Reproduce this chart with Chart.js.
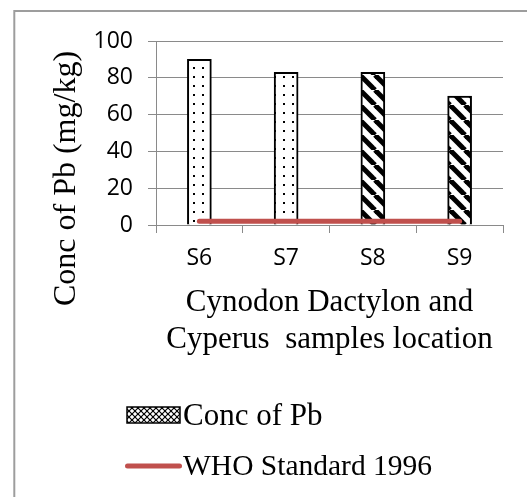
<!DOCTYPE html>
<html>
<head>
<meta charset="utf-8">
<script src="https://cdn.jsdelivr.net/npm/chart.js@4.4.1/dist/chart.umd.min.js"></script>
<style>
  html, body { margin: 0; padding: 0; background: #fff; }
  #wrap { width: 527px; height: 497px; position: relative; }
</style>
</head>
<body>
<div id="wrap"><canvas id="c" width="527" height="497"></canvas></div>
<script>
// ---- data ----
const categories = ['S6', 'S7', 'S8', 'S9'];
const pbValues = [90, 83, 83, 70];
const whoValues = [2, 2, 2, 2];
const seriesNames = ['Conc of Pb', 'WHO Standard 1996'];
const yAxisTitle = 'Conc of Pb (mg/kg)';
const xAxisTitle = ['Cynodon Dactylon and', 'Cyperus  samples location'];
const yMin = 0, yMax = 100, yStep = 20;

// ---- patterns ----
function dotPattern() {
  const c = document.createElement('canvas');
  c.width = 9; c.height = 9;
  const g = c.getContext('2d');
  g.fillStyle = '#fff'; g.fillRect(0, 0, 9, 9);
  g.fillStyle = '#000'; g.fillRect(4, 4, 2, 2);
  return g.createPattern(c, 'repeat');
}
function stripePattern() {
  const s = 15;
  const c = document.createElement('canvas');
  c.width = s; c.height = s;
  const g = c.getContext('2d');
  g.fillStyle = '#fff'; g.fillRect(0, 0, s, s);
  g.strokeStyle = '#000'; g.lineWidth = 5;
  for (const o of [-s, 0, s]) {
    g.beginPath(); g.moveTo(o, 0); g.lineTo(o + s, s); g.stroke();
  }
  return g.createPattern(c, 'repeat');
}
function crossPattern() {
  const s = 6;
  const c = document.createElement('canvas');
  c.width = s; c.height = s;
  const g = c.getContext('2d');
  g.fillStyle = '#fff'; g.fillRect(0, 0, s, s);
  g.strokeStyle = '#000'; g.lineWidth = 1.2;
  for (const o of [-s, 0, s]) {
    g.beginPath(); g.moveTo(o, 0); g.lineTo(o + s, s); g.stroke();
    g.beginPath(); g.moveTo(o, s); g.lineTo(o + s, 0); g.stroke();
  }
  return g.createPattern(c, 'repeat');
}
const dots = dotPattern();
const stripes = stripePattern();
const cross = crossPattern();
const barFills = [dots, dots, stripes, stripes];

const serif = '"Liberation Serif", "Times New Roman", serif';
const sans = '"Open Sans", "Liberation Sans", sans-serif';
const gridColor = '#8a8a8a';

const decor = {
  id: 'decor',
  beforeDraw(chart) {
    const ctx = chart.ctx;
    ctx.save();
    ctx.strokeStyle = '#9d9d9d';
    ctx.lineWidth = 2;
    ctx.strokeRect(14.3, 11, 700, 700);
    ctx.restore();
  },
  afterDraw(chart) {
    const ctx = chart.ctx;
    ctx.save();
    // y axis title
    ctx.fillStyle = '#000';
    ctx.font = '32px ' + serif;
    ctx.textAlign = 'center';
    ctx.textBaseline = 'middle';
    ctx.translate(67, 178.5);
    ctx.rotate(-Math.PI / 2);
    ctx.fillText(yAxisTitle, 0, 0);
    ctx.restore();

    // legend
    ctx.save();
    ctx.fillStyle = cross;
    ctx.fillRect(127, 407, 53, 16);
    ctx.strokeStyle = '#000';
    ctx.lineWidth = 1.5;
    ctx.strokeRect(127, 407, 53, 16);
    ctx.strokeStyle = '#C0504D';
    ctx.lineWidth = 5;
    ctx.lineCap = 'round';
    ctx.beginPath(); ctx.moveTo(127.5, 466); ctx.lineTo(179.5, 466); ctx.stroke();
    ctx.fillStyle = '#000';
    ctx.textAlign = 'left';
    ctx.textBaseline = 'alphabetic';
    ctx.font = '31px ' + serif;
    ctx.fillText(seriesNames[0], 183, 425);
    ctx.font = '29.5px ' + serif;
    ctx.fillText(seriesNames[1], 183, 475);
    ctx.restore();
  }
};

new Chart(document.getElementById('c'), {
  type: 'bar',
  data: {
    labels: categories,
    datasets: [
      {
        type: 'line',
        label: seriesNames[1],
        data: whoValues,
        borderColor: '#C0504D',
        borderWidth: 5,
        borderCapStyle: 'round',
        pointRadius: 0,
        fill: false,
        order: 0
      },
      {
        type: 'bar',
        label: seriesNames[0],
        data: pbValues,
        backgroundColor: barFills,
        borderColor: '#000',
        borderWidth: 2,
        barThickness: 24,
        order: 1
      }
    ]
  },
  options: {
    responsive: false,
    animation: false,
    layout: { padding: { left: 0, top: 41, right: 24, bottom: 138.5 } },
    plugins: {
      legend: { display: false },
      tooltip: { enabled: false },
      title: { display: false }
    },
    scales: {
      x: {
        offset: true,
        grid: { display: true, drawOnChartArea: false, drawTicks: true, tickLength: 8, color: gridColor, lineWidth: 1 },
        border: { display: true, color: gridColor, width: 1 },
        ticks: { color: '#000', font: { family: sans, size: 23 }, padding: 12, maxRotation: 0 },
        title: {
          display: true,
          text: xAxisTitle,
          color: '#000',
          font: { family: serif, size: 31, lineHeight: 1.2 },
          padding: { top: 0, bottom: 0 }
        },
        afterFit(scale) { scale.height = 133.5; }
      },
      y: {
        min: yMin, max: yMax,
        grid: { color: gridColor, lineWidth: 1, drawTicks: true, tickLength: 8 },
        border: { display: true, color: gridColor, width: 1 },
        ticks: { stepSize: yStep, color: '#000', font: { family: sans, size: 23 }, padding: 15 },
        afterFit(scale) { scale.width = 156; }
      }
    }
  },
  plugins: [decor]
});
</script>
</body>
</html>
